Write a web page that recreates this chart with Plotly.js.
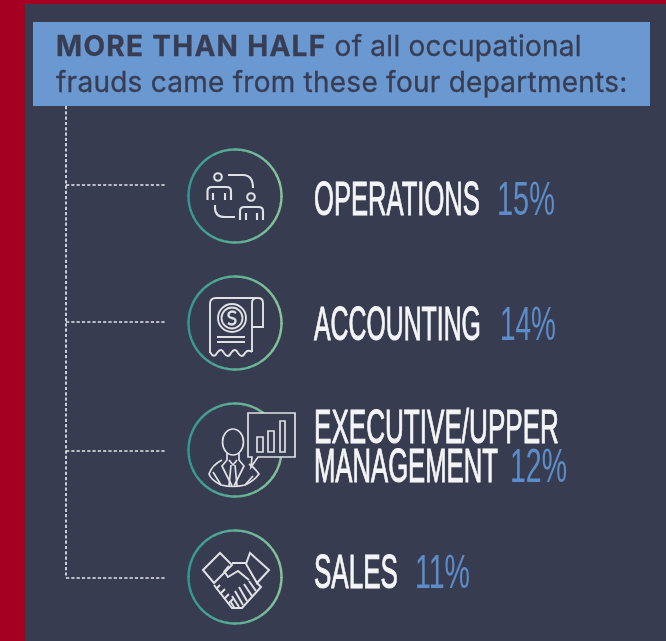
<!DOCTYPE html>
<html><head><meta charset="utf-8">
<script src="https://cdn.plot.ly/plotly-3.0.1.min.js"></script>
<style>html,body{margin:0;padding:0;background:#a50021;overflow:hidden}#c{width:666px;height:641px;filter:blur(.4px)}</style>
</head><body><div id="c"></div>
<script>
// ---- data ----
const headline = ['<b>MORE THAN HALF</b> of all occupational', 'frauds came from these four departments:'];
const departments = ['OPERATIONS', 'ACCOUNTING', 'EXECUTIVE/UPPER<br>MANAGEMENT', 'SALES'];
const shares = [15, 14, 12, 11];

// ---- placement (page pixels, the axes are 1:1 with the page) ----
const iconY = [196, 323, 450, 577];
const branchY = [185, 322, 451, 578];
const labelY = [[203], [328], [431, 470], [576]];
const labelW = [[166], [167], [245, 184], [84]];
const shareX = [497, 500, 510, 415];
const shareW = [58, 56, 57, 55];
const shareY = [203, 328, 470, 576];

// ---- colours ----
const RED = '#a50021', PANEL = '#383c50', BLUE = '#6a98d0', INK = '#383d53', PCT = '#5d8dc9',
      WHITE = '#f4f5f6', ICON = '#dfe1e4', TEAL = [52, 152, 146], MINT = [135, 196, 155];

const CX = 235, R = 46.5;
const shapes = [];
shapes.push({type: 'rect', x0: 33, x1: 650, y0: 22, y1: 106, fillcolor: BLUE, line: {width: 0}, layer: 'below'});

// dotted tree
const dot = {color: '#e6e7ea', width: 1.7, dash: '3.2px,2.1px'};
shapes.push({type: 'line', x0: 66, x1: 66, y0: 106, y1: 578, line: dot});
branchY.forEach(y => shapes.push({type: 'line', x0: 66, x1: 166, y0: y, y1: y, line: dot}));

// ring drawn in short arcs that walk from teal on the left to mint on the right
function ring(cy) {
  const n = 40;
  for (let i = 0; i < n; i++) {
    const a0 = i / n * 2 * Math.PI, a1 = (i + 1.15) / n * 2 * Math.PI;
    const mid = (a0 + a1) / 2, t = (Math.cos(mid) + 1) / 2;
    const c = TEAL.map((v, k) => Math.round(v + (MINT[k] - v) * t));
    let d = '';
    for (let j = 0; j <= 4; j++) {
      const a = a0 + (a1 - a0) * j / 4;
      d += (j ? 'L' : 'M') + (CX + R * Math.cos(a)).toFixed(2) + ',' + (cy + R * Math.sin(a)).toFixed(2);
    }
    shapes.push({type: 'path', path: d, line: {color: `rgb(${c})`, width: 2.4}});
  }
}
iconY.forEach(ring);

// outline icons, written around the centre of their ring
const move = (d, cy) => d.replace(/(-?[\d.]+),(-?[\d.]+)/g, (m, x, y) => (CX + +x) + ',' + (cy + +y));
function ell(x, y, rx, ry) {
  return `M${x - rx},${y}C${x - rx},${y - ry * .55} ${x - rx * .55},${y - ry} ${x},${y - ry}C${x + rx * .55},${y - ry} ${x + rx},${y - ry * .55} ${x + rx},${y}C${x + rx},${y + ry * .55} ${x + rx * .55},${y + ry} ${x},${y + ry}C${x - rx * .55},${y + ry} ${x - rx},${y + ry * .55} ${x - rx},${y}Z`;
}
const circ = (x, y, r) => ell(x, y, r, r);
function addIcon(i, parts, width, fill) {
  parts.forEach(p => shapes.push({type: 'path', path: move(p, iconY[i]),
    line: {color: ICON, width: width || 1.6}, fillcolor: fill || 'rgba(0,0,0,0)'}));
}
// people swapping
addIcon(0, [
  circ(-17, -19, 3.8),
  'M-27.5,4L-27.5,-5Q-27.5,-9 -23,-9L-8.5,-9Q-4,-9 -4,-5L-4,4',
  'M-22,-3L-22,4M-10,-3L-10,4',
  circ(16, 1, 3.8),
  'M5,24L5,15Q5,11 9.5,11L23.5,11Q28,11 28,15L28,24',
  'M11,17L11,24M22,17L22,24',
  'M-7,-21L8,-21Q18,-21 18,-8',
  'M-20,9L-20,12Q-20,21 -10,21L0,21'
], 2.1);
// receipt
addIcon(1, [
  'M-25,30L-25,-19Q-25,-25 -19,-25L23,-25Q28,-25 28,-20L28,4L17,4',
  'M17,-20Q17,-25 22,-25',
  'M17,-20L17,29',
  'M-25,29Q-21,36 -18,30Q-14,24 -11,30Q-7,36 -4,30Q0,24 3,30Q7,36 10,30Q13,26 17,29',
  circ(-3, -5, 14), circ(-3, -5, 10.5),
  'M-18,14L10,14M-18,19L10,19'
], 1.9);
addIcon(1, ['M1,-10Q-3,-13 -6,-10Q-8,-6 -3,-5Q2,-4 0,0Q-3,3 -7,0'], 2.4);
// executive with chart
addIcon(2, ['M13,-37L60,-37L60,7L23,7L16,17L17,7L13,7Z'], 1.7, PANEL);
addIcon(2, [
  'M22,-13L28,-13L28,2L22,2Z', 'M33,-19L39,-19L39,2L33,2Z', 'M45,-29L50,-29L50,2L45,2Z',
  ell(-2, -8, 10.5, 13),
  'M-8,3L-8,10L-13,16L-3,36M4,3L4,10L9,16L-1,36',
  'M-13,10Q-23,15 -26,24Q-24,30 -14,35Q-2,38 10,35Q20,30 24,24Q21,19 14,14',
  'M-6,10L-2,15L2,10M-4,15L-6,36M0,15L2,36',
  'M-22,22L-14,35M18,26L10,35'
], 1.7);
// handshake
addIcon(3, [
  'M-32,-7L-15,-24L-3,-12L-21,6Z',
  'M15,-24L34,-7L22,6L11,-13Z',
  'M-3,-14L11,-14',
  'M-11,-6L-7,0L3,-6L14,3',
  'M-21,8L-3,31L7,31L26,10L22,6',
  'M-6,-11L-11,-5',
  'M-19,12L-15,8M-15,17L-10,12M-11,22L-6,17M-7,27L-2,22',
  'M-1,30L-5,24M4,30L-3,19M8,28L0,14M12,24L4,10M17,19L9,7M21,14L14,4',
], 2);

// ---- text traces, read from the data arrays ----
const lx = [], ly = [], lt = [], lw = [];
departments.forEach((name, i) => name.split('<br>').forEach((line, k) => {
  lx.push(314); ly.push(labelY[i][k]); lt.push(line); lw.push(labelW[i][k]);
}));
const COND = '"Liberation Sans Narrow","Liberation Sans",sans-serif';
const traces = [
  {type: 'scatter', mode: 'text', x: lx, y: ly, text: lt, textposition: 'middle right',
   textfont: {family: COND, size: 48, color: WHITE}, hoverinfo: 'skip', cliponaxis: false},
  {type: 'scatter', mode: 'text', x: shareX, y: shareY, text: shares.map(v => v + '%'), textposition: 'middle right',
   textfont: {family: COND, size: 48, color: PCT}, hoverinfo: 'skip', cliponaxis: false}
];
const layout = {
  width: 666, height: 641, showlegend: false, hovermode: false,
  margin: {l: 25, r: 0, t: 4, b: 0, pad: 0},
  paper_bgcolor: RED, plot_bgcolor: PANEL,
  title: {text: headline.join('<br>'), x: 56 / 666, xref: 'container', xanchor: 'left',
          y: 1 - 56 / 641, yref: 'container', yanchor: 'top',
          font: {family: 'Inter, "Open Sans", sans-serif', size: 28, color: INK}},
  xaxis: {range: [25, 666], visible: false, fixedrange: true},
  yaxis: {range: [641, 4], visible: false, fixedrange: true},
  shapes: shapes
};
Plotly.newPlot('c', traces, layout, {displayModeBar: false, staticPlot: true}).then(gd => {
  // the typeface of the original is much narrower than anything installed: squeeze each run to its width
  const squeeze = (nodes, widths, stroke) => nodes.forEach((t, i) => {
    const b = t.getBBox(), s = widths[i] / b.width, x = b.x;
    t.setAttribute('transform', `translate(${x},0) scale(${s},1) translate(${-x},0)`);
    if (stroke) { t.style.stroke = t.style.fill; t.style.strokeWidth = stroke + 'px'; }
  });
  const groups = gd.querySelectorAll('.scatterlayer .trace');
  squeeze([...groups[0].querySelectorAll('.textpoint text')], lw, 1);
  squeeze([...groups[1].querySelectorAll('.textpoint text')], shareW);
  // the headline's geometric typeface runs a little wider than Inter
  const title = gd.querySelector('.gtitle');
  title.setAttribute('letter-spacing', '0.25');
  title.style.stroke = INK; title.style.strokeWidth = '0.3px';
  const bold = title.querySelector('tspan[style*="bold"]');
  if (bold) bold.setAttribute('letter-spacing', '1.3');
});
</script></body></html>
